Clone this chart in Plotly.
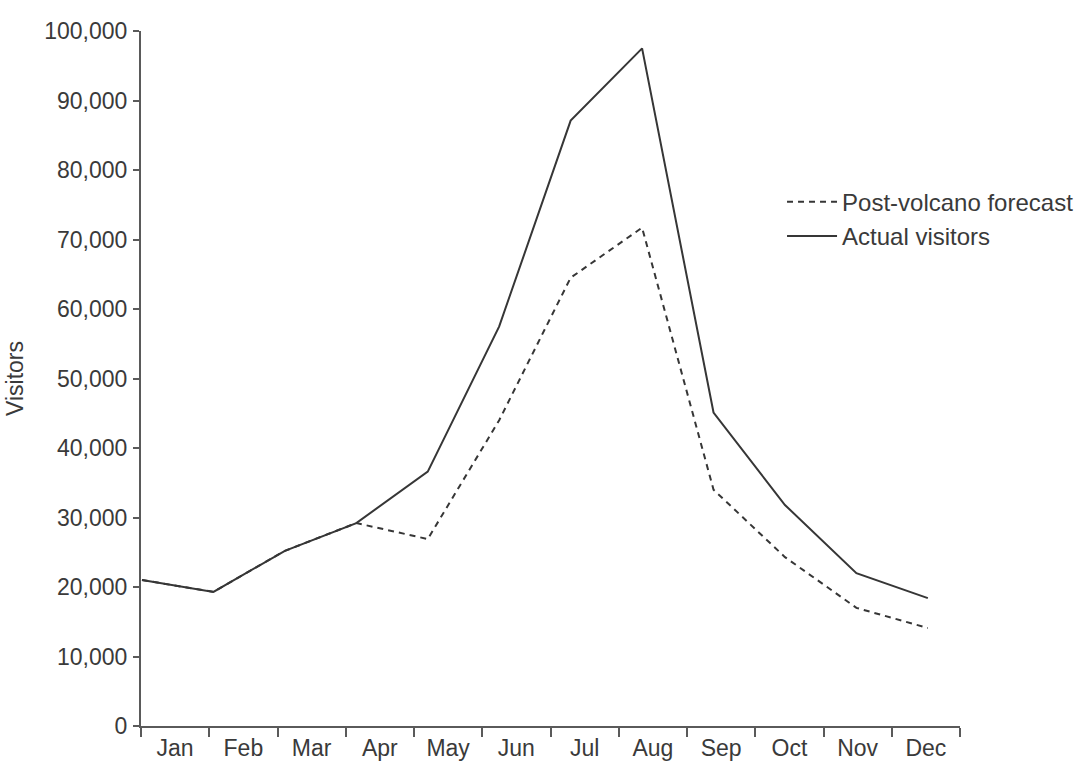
import plotly.graph_objects as go

months = ["Jan", "Feb", "Mar", "Apr", "May", "Jun", "Jul", "Aug", "Sep", "Oct", "Nov", "Dec"]
actual_visitors = [21000, 19300, 25200, 29200, 36600, 57500, 87100, 97500, 45100, 31800, 22000, 18400]
forecast = [21000, 19300, 25200, 29200, 26900, 44000, 64500, 71700, 34000, 24300, 17000, 14100]
y_ticks = list(range(0, 100001, 10000))

FONT = "Liberation Sans, Arial, Helvetica, sans-serif"
TXT = "#3a3a3a"
LINE = "#363636"
AX = "#5a5a5a"
FS = 23

idx = list(range(len(months)))

fig = go.Figure()
fig.add_trace(go.Scatter(
    x=idx, y=forecast, mode="lines", name="Post-volcano forecast",
    line=dict(color=LINE, width=2, dash="6px,5px"), hovertext=months,
))
fig.add_trace(go.Scatter(
    x=idx, y=actual_visitors, mode="lines", name="Actual visitors",
    line=dict(color=LINE, width=2), hovertext=months,
))
# category axis carrier (no visible marks)
fig.add_trace(go.Scatter(
    x=months, y=[None] * len(months), xaxis="x2", mode="lines",
    showlegend=False, hoverinfo="skip",
))

fig.update_layout(
    width=1074, height=767,
    margin=dict(l=141, r=114, t=31, b=41, autoexpand=False),
    paper_bgcolor="white", plot_bgcolor="white",
    font=dict(family=FONT, size=FS, color=TXT),
    showlegend=True,
    legend=dict(
        x=0.7827, y=0.786, xanchor="left", yanchor="top",
        bgcolor="rgba(0,0,0,0)", font=dict(size=24, color=TXT),
        tracegroupgap=0, itemwidth=50,
    ),
    xaxis=dict(
        range=[-0.014, 11.45], showticklabels=False, showline=False,
        showgrid=False, zeroline=False, ticks="", automargin=False,
    ),
    xaxis2=dict(
        type="category", overlaying="x", side="bottom", anchor="y",
        categoryorder="array", categoryarray=months,
        range=[-0.5, 11.5], tickson="boundaries", ticks="outside",
        ticklen=9, tickwidth=2, tickcolor=AX,
        showline=True, linecolor=AX, linewidth=2,
        showgrid=False, zeroline=False, automargin=False,
        tickfont=dict(size=FS, color=TXT),
    ),
    yaxis=dict(
        range=[0, 100000], tickvals=y_ticks, tickformat=",",
        ticks="outside", ticklen=6, tickwidth=2, tickcolor=AX,
        showline=True, linecolor=AX, linewidth=2,
        showgrid=False, zeroline=False, automargin=False,
        ticklabelstandoff=1,
        tickfont=dict(size=FS, color=TXT),
        title=dict(text="Visitors", font=dict(size=FS, color=TXT), standoff=14),
    ),
)

fig.write_html(
    "out.html",
    config={"displayModeBar": False},
    post_script="document.body.style.margin='0';document.body.style.padding='0';document.body.style.overflow='hidden';",
)
